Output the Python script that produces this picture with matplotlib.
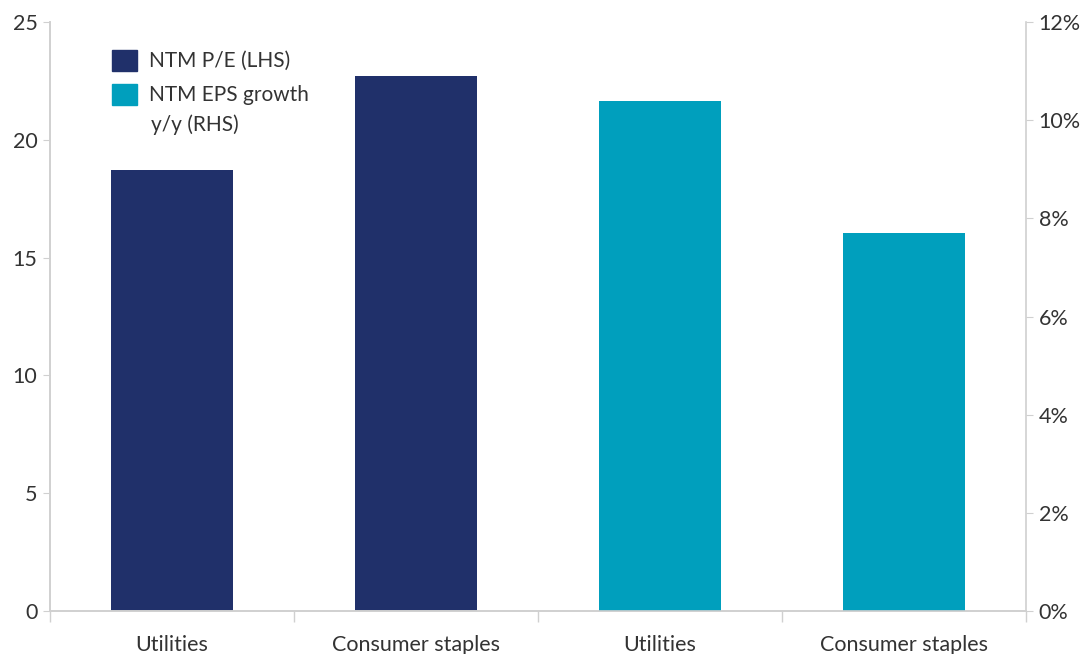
import numpy as np
import matplotlib.pyplot as plt
from matplotlib.patches import Patch

plt.rcParams['font.family'] = ['Lato', 'DejaVu Sans']

categories = ['Utilities', 'Consumer staples', 'Utilities', 'Consumer staples']
pe_values = [18.7, 22.7]          # NTM P/E (LHS)
eps_growth = [10.4, 7.7]          # NTM EPS growth y/y, % (RHS)
left_ticks = [0, 5, 10, 15, 20, 25]
right_ticks = [0, 2, 4, 6, 8, 10, 12]

navy = '#20306a'
teal = '#009fbd'
grid = '#d0d0d0'
text = '#333333'

fig = plt.figure(figsize=(10.84, 6.54), dpi=100, facecolor='white')
ax = fig.add_axes([0.0461, 0.0657, 0.9004, 0.9007])
ax2 = ax.twinx()

x = np.arange(len(categories))
ax.bar(x[:2], pe_values, width=0.5, color=navy, zorder=2)
ax2.bar(x[2:], eps_growth, width=0.5, color=teal, zorder=2)

ax.set_xlim(-0.5, 3.5)
ax.set_ylim(0, 25)
ax2.set_ylim(0, 12)
ax.set_yticks(left_ticks)
ax2.set_yticks(right_ticks)
ax2.set_yticklabels([f'{v}%' for v in right_ticks])

ax.set_xticks(x)
ax.set_xticklabels(categories)
ax.set_xticks(np.arange(-0.5, 4, 1), minor=True)
ax.tick_params(axis='x', which='major', length=0, pad=17, labelsize=15.5, labelcolor=text)
ax.tick_params(axis='x', which='minor', length=8, color=grid, width=1)
ax.tick_params(axis='y', length=5, color=grid, labelsize=15.5, labelcolor=text, pad=4)
ax2.tick_params(axis='y', length=5, color=grid, labelsize=15.5, labelcolor=text, pad=4)

for a in (ax, ax2):
    a.spines['top'].set_visible(False)
    for s in ('left', 'right', 'bottom'):
        a.spines[s].set_color(grid)
        a.spines[s].set_linewidth(1.2)
ax.spines['right'].set_visible(False)

# legend: patch sits beside the first line of each label, second line added as text
handles = [Patch(color=navy, label='NTM P/E (LHS)'),
           Patch(color=teal, label='NTM EPS growth')]
leg = ax.legend(handles=handles, loc='upper left', bbox_to_anchor=(0.044, 0.985),
                frameon=False, fontsize=15, handlelength=1.2, handleheight=1.2,
                handletextpad=0.6, labelspacing=0.6)
for t in leg.get_texts():
    t.set_color(text)
ax.text(0.1035, 0.826, 'y/y (RHS)', transform=ax.transAxes, fontsize=15,
        color=text, ha='left', va='center')

fig.savefig('out.png', dpi=100, facecolor='white')
